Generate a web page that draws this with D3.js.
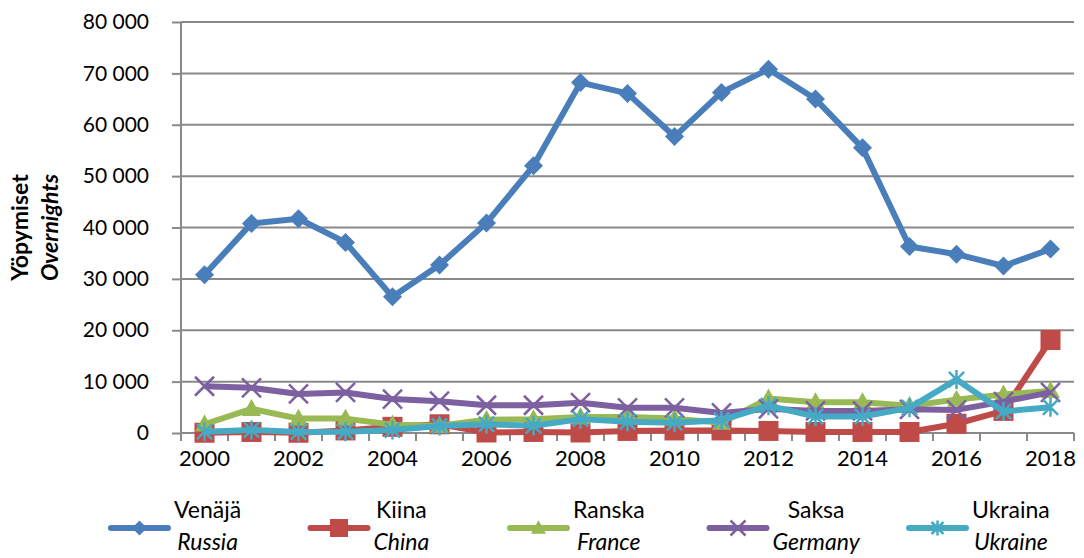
<!DOCTYPE html>
<html>
<head>
<meta charset="utf-8">
<script src="https://cdnjs.cloudflare.com/ajax/libs/d3/7.8.5/d3.min.js"></script>
<style>
  body { margin: 0; background: #fff; }
  text { font-family: Lato, "Open Sans", sans-serif; fill: #000; }
</style>
</head>
<body>
<div id="viz"></div>
<script>
var years = ['2000', '2001', '2002', '2003', '2004', '2005', '2006', '2007', '2008', '2009',
             '2010', '2011', '2012', '2013', '2014', '2015', '2016', '2017', '2018'];

// overnights by country
var russia  = [30800, 40800, 41700, 37100, 26500, 32700, 40900, 52000, 68200, 66100,
               57700, 66300, 70800, 65000, 55500, 36300, 34800, 32500, 35800];
var china   = [50, 200, 50, 500, 1200, 1700, 100, 200, 100, 400,
               500, 500, 400, 200, 200, 200, 1800, 4300, 18100];
var france  = [1700, 4700, 2800, 2800, 1600, 1400, 2600, 2700, 3100, 3100,
               2800, 2000, 6700, 6000, 6000, 5300, 6500, 7500, 8200];
var germany = [9100, 8800, 7600, 7900, 6600, 6200, 5400, 5400, 5900, 4900,
               4900, 3900, 4700, 4300, 4300, 4600, 4500, 6100, 7900];
var ukraine = [250, 600, 200, 250, 600, 1350, 1700, 1400, 2700, 2200,
               2000, 2500, 5300, 3200, 3200, 4900, 10400, 4200, 5000];

var yTicks = [0, 10000, 20000, 30000, 40000, 50000, 60000, 70000, 80000];
var xLabels = years.filter(function(d, i) { return i % 2 === 0; });

var series = [
  { fi: 'Venäjä',  en: 'Russia',  values: russia,  color: '#4A7EBB', marker: 'diamond' },
  { fi: 'Kiina',   en: 'China',   values: china,   color: '#BE4B48', marker: 'square' },
  { fi: 'Ranska',  en: 'France',  values: france,  color: '#98B954', marker: 'triangle' },
  { fi: 'Saksa',   en: 'Germany', values: germany, color: '#7D60A0', marker: 'x' },
  { fi: 'Ukraina', en: 'Ukraine', values: ukraine, color: '#46AAC5', marker: 'star' }
];

var W = 1084, H = 558,
    plot = { left: 181, right: 1074, top: 22, bottom: 433 },
    gridColor = '#898989';

var svg = d3.select('#viz').append('svg')
  .attr('width', W)
  .attr('height', H);

var x = d3.scaleBand()
  .domain(years)
  .range([plot.left, plot.right])
  .padding(0);

var y = d3.scaleLinear()
  .domain([0, 80000])
  .range([plot.bottom, plot.top]);

var fmt = d3.formatLocale({ decimal: ',', thousands: '\u00a0', grouping: [3], currency: ['', ''] }).format(',d');

function cx(d, i) { return x(years[i]) + x.bandwidth() / 2; }

function markerPath(type, s) {
  var h = s / 2;
  if (type === 'diamond') return 'M0,' + (-h) + 'L' + h + ',0L0,' + h + 'L' + (-h) + ',0Z';
  if (type === 'square') return 'M' + (-h) + ',' + (-h) + 'h' + s + 'v' + s + 'h' + (-s) + 'Z';
  if (type === 'triangle') return 'M0,' + (-h * 1.05) + 'L' + h + ',' + (h * 0.75) + 'L' + (-h) + ',' + (h * 0.75) + 'Z';
  if (type === 'x') return 'M' + (-h) + ',' + (-h) + 'L' + h + ',' + h + 'M' + (-h) + ',' + h + 'L' + h + ',' + (-h);
  // star: vertical bar plus an x
  var k = h * 0.8;
  return 'M0,' + (-h) + 'V' + h + 'M' + (-k) + ',' + (-k) + 'L' + k + ',' + k + 'M' + (-k) + ',' + k + 'L' + k + ',' + (-k);
}
function filled(type) { return type === 'diamond' || type === 'square' || type === 'triangle'; }

// horizontal gridlines
svg.append('g')
  .selectAll('line').data(yTicks.filter(function(d) { return d > 0; }))
  .enter().append('line')
    .attr('x1', plot.left)
    .attr('x2', plot.right)
    .attr('y1', function(d) { return y(d); })
    .attr('y2', function(d) { return y(d); })
    .attr('stroke', gridColor)
    .attr('stroke-width', 2);

// y axis
var yGuide = svg.append('g')
  .attr('transform', 'translate(' + plot.left + ',0)')
  .call(d3.axisLeft(y).tickValues(yTicks).tickSize(9).tickPadding(23).tickFormat(fmt));
yGuide.selectAll('path, line').attr('stroke', gridColor).attr('stroke-width', 2);
yGuide.select('.domain').attr('d', 'M0,' + plot.top + 'V' + plot.bottom);
yGuide.selectAll('text').style('font-size', '21px').attr('fill', '#000').attr('font-family', null);

// x axis: labels on every other year, ticks between categories
var xGuide = svg.append('g')
  .attr('transform', 'translate(0,' + plot.bottom + ')')
  .call(d3.axisBottom(x).tickValues(xLabels).tickSize(0).tickPadding(17));
xGuide.select('.domain').attr('d', 'M' + plot.left + ',0H' + plot.right)
  .attr('stroke', gridColor).attr('stroke-width', 2);
xGuide.selectAll('text').style('font-size', '22px').attr('fill', '#000').attr('font-family', null);
xGuide.selectAll('.xtick').data(d3.range(years.length + 1))
  .enter().append('line')
    .attr('class', 'xtick')
    .attr('x1', function(i) { return plot.left + i * x.bandwidth(); })
    .attr('x2', function(i) { return plot.left + i * x.bandwidth(); })
    .attr('y1', 0)
    .attr('y2', 8)
    .attr('stroke', gridColor)
    .attr('stroke-width', 2);

// axis title
var title = svg.append('text')
  .attr('transform', 'rotate(-90)')
  .attr('text-anchor', 'middle')
  .style('font-size', '23px')
  .style('font-weight', 'bold');
title.append('tspan')
  .attr('x', -(plot.top + plot.bottom) / 2)
  .attr('y', 28)
  .text('Yöpymiset');
title.append('tspan')
  .attr('x', -(plot.top + plot.bottom) / 2)
  .attr('y', 58)
  .style('font-style', 'italic')
  .text('Overnights');

// lines and markers
var line = d3.line()
  .x(cx)
  .y(function(d) { return y(d); });

series.forEach(function(s) {
  var g = svg.append('g');
  g.append('path')
    .attr('d', line(s.values))
    .attr('fill', 'none')
    .attr('stroke', s.color)
    .attr('stroke-width', 6)
    .attr('stroke-linejoin', 'round');
  g.selectAll('path.marker').data(s.values)
    .enter().append('path')
      .attr('class', 'marker')
      .attr('transform', function(d, i) { return 'translate(' + cx(d, i) + ',' + y(d) + ')'; })
      .attr('d', markerPath(s.marker, s.marker === 'square' ? 20 : 19))
      .attr('fill', filled(s.marker) ? s.color : 'none')
      .attr('stroke', s.color)
      .attr('stroke-width', filled(s.marker) ? 0 : 2.5);
});

// legend
var legend = svg.append('g');
series.forEach(function(s, i) {
  var x0 = 111 + i * 199.5,
      lineW = 57,
      ly = 528;
  var item = legend.append('g');
  item.append('line')
    .attr('x1', x0).attr('x2', x0 + lineW)
    .attr('y1', ly).attr('y2', ly)
    .attr('stroke', s.color)
    .attr('stroke-width', 6)
    .attr('stroke-linecap', 'round');
  item.append('path')
    .attr('transform', 'translate(' + (x0 + lineW / 2) + ',' + ly + ')')
    .attr('d', markerPath(s.marker, s.marker === 'square' ? 18 : 15))
    .attr('fill', filled(s.marker) ? s.color : 'none')
    .attr('stroke', s.color)
    .attr('stroke-width', filled(s.marker) ? 0 : 2.5);
  var t1 = item.append('text').attr('y', 518).style('font-size', '23px').text(s.fi);
  var t2 = item.append('text').attr('y', 550).style('font-size', '23px').style('font-style', 'italic').text(s.en);
  var w = Math.max(t1.node().getComputedTextLength(), t2.node().getComputedTextLength());
  var mid = x0 + lineW + 6 + w / 2;
  t1.attr('x', mid).attr('text-anchor', 'middle');
  t2.attr('x', mid).attr('text-anchor', 'middle');
});
</script>
</body>
</html>
